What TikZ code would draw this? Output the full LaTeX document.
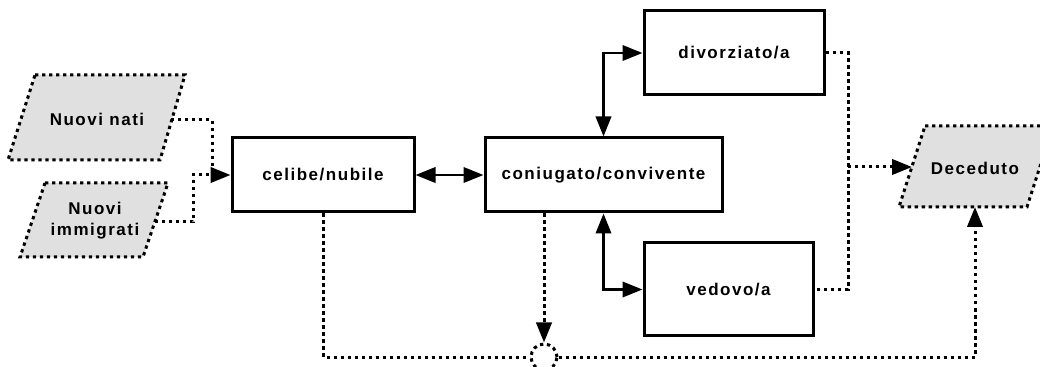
\documentclass[tikz,border=0pt]{standalone}
\usepackage{fontspec}
\setmainfont{Liberation Sans}[LetterSpace=9]
\usetikzlibrary{arrows.meta,calc}
\begin{document}
\begin{tikzpicture}[x=0.75pt,y=-0.75pt,
  lbl/.style={font=\bfseries\fontsize{12.75pt}{15.75pt}\selectfont, align=center},
  statebox/.style={draw, line width=2.25pt, inner sep=0pt, lbl},
  flow/.style={line width=2.25pt, dash pattern=on 2.5pt off 2.75pt},
  solidlink/.style={line width=2pt},
  tip/.style={-{Triangle[length=15pt,width=11.5pt]}},
  bitip/.style={{Triangle[length=15pt,width=11.5pt]}-{Triangle[length=15pt,width=11.5pt]}},
  io/.style={flow, fill=black!12}
]
\useasboundingbox (0,0) rectangle (1040,367);

% state boxes
\node[statebox, minimum width=136.5pt, minimum height=55.5pt] (cel) at (323,175) {celibe/nubile};
\node[statebox, minimum width=177.75pt, minimum height=55.5pt] (con) at (603.5,175) {coniugato/convivente};
\node[statebox, minimum width=135pt, minimum height=63pt] (div) at (734,53) {divorziato/a};
\node[statebox, minimum width=126.75pt, minimum height=69.75pt] (ved) at (728.5,289.5) {vedovo/a};

% input / output parallelograms
\draw[io] (35,75) -- (185,75) -- (160,160) -- (8,160) -- cycle;
\node[lbl] (nati) at (97,119) {Nuovi nati};
\coordinate (natiE) at (171,120);

\draw[io] (45,183) -- (168,183) -- (143,257) -- (20,257) -- cycle;
\node[lbl] (imm) at (95,221) {Nuovi\\immigrati};
\coordinate (immE) at (155,222);

\draw[io] (925,126) -- (1053,126) -- (1027,207) -- (899,207) -- cycle;
\node[lbl] (dec) at (975,168) {Deceduto};
\coordinate (decW) at (912,167);
\coordinate (decS) at (975,207);

% junction circle
\node[draw, flow, circle, minimum size=19.5pt, inner sep=0pt, fill=white] (sum) at (544,357) {};

% inflows
\coordinate (j1) at (212,175);
\coordinate (j2) at (193,175);
\draw[flow] (natiE) -| (j1);
\draw[flow] (immE) -| (j2) -- (j1);
\draw[flow, tip] (j1) -- (cel.west);

% solid transitions
\draw[solidlink, bitip] (cel.east) -- (con.west);
\draw[solidlink, bitip] (con.north) |- (div.west);
\draw[solidlink, bitip] (con.south) |- (ved.west);

% death flows
\coordinate (bus) at (848,167);
\draw[flow] (div.east) -| (bus |- ved.east) -- (ved.east);
\draw[flow, tip] (bus) -- (decW);
\draw[flow] (cel.south) |- (sum.west);
\draw[flow, tip] (con.south -| sum.north) -- (sum.north);
\draw[flow, tip] (sum.east) -| (decS);
\end{tikzpicture}
\end{document}
